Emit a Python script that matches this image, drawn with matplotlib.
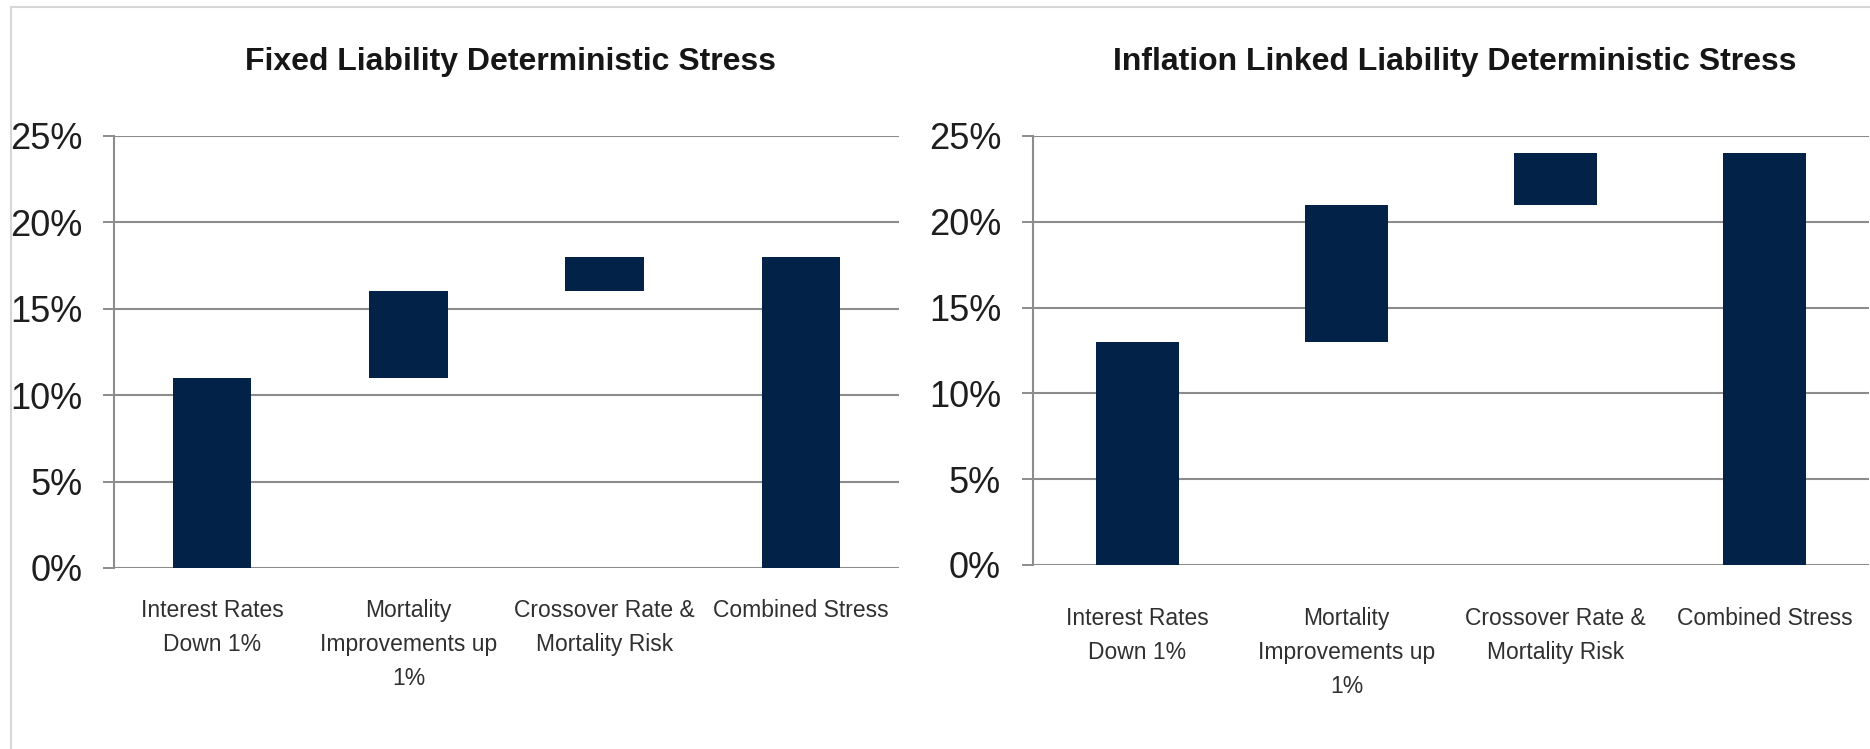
import matplotlib
matplotlib.use("Agg")
import matplotlib.pyplot as plt
from matplotlib.lines import Line2D
from matplotlib.ticker import PercentFormatter

# categories along the x axis
categories = ["Interest Rates\nDown 1%", "Mortality\nImprovements up\n1%",
              "Crossover Rate &\nMortality Risk", "Combined Stress"]

# waterfall bars: where each bar starts and ends (%)
fixed_start = [0, 11, 16, 0]
fixed_end = [11, 16, 18, 18]
infl_start = [0, 13, 21, 0]
infl_end = [13, 21, 24, 24]

titles = ["Fixed Liability Deterministic Stress",
          "Inflation Linked Liability Deterministic Stress"]
yticks = [0, 5, 10, 15, 20, 25]

navy = "#022347"
grid_gray = "#8c8c8c"

fig = plt.figure(figsize=(18.7, 7.49), dpi=100)

ax1 = fig.add_axes([0.0610, 0.2417, 0.4198, 0.5768])
ax2 = fig.add_axes([0.5524, 0.2457, 0.4471, 0.5728])

panels = [(ax1, fixed_start, fixed_end, titles[0], 22),
          (ax2, infl_start, infl_end, titles[1], 30)]

for ax, start, end, title, xpad in panels:
    x = list(range(len(categories)))
    heights = [e - s for s, e in zip(start, end)]
    ax.bar(x, heights, bottom=start, width=0.40, color=navy, zorder=3)
    ax.set_xlim(-0.5, len(categories) - 0.5)
    ax.set_ylim(0, 25)
    ax.set_yticks(yticks)
    ax.yaxis.set_major_formatter(PercentFormatter(decimals=0))
    ax.set_xticks(x)
    ax.set_xticklabels(categories, family="Liberation Sans",
                       fontsize=16.5, color="#303030", linespacing=1.62)
    for lbl in ax.get_yticklabels():
        lbl.set_family("Liberation Sans")
        lbl.set_fontsize(26)
        lbl.set_color("#1e1e1e")
    ax.tick_params(axis="x", length=0, pad=xpad)
    ax.tick_params(axis="y", length=8, width=1.4, color=grid_gray, pad=15)
    ax.grid(axis="y", color=grid_gray, linewidth=1.5, zorder=0)
    for side in ["top", "right", "bottom"]:
        ax.spines[side].set_visible(False)
    ax.spines["left"].set_color(grid_gray)
    ax.spines["left"].set_linewidth(1.5)
    # title centred over the axes
    bb = ax.get_position()
    fig.text(bb.x0 + bb.width / 2 + 0.002, 1 - 62 / 749, title, ha="center", va="center",
             family="Liberation Sans", fontweight="bold", fontsize=23, color="#161616")

# light outer frame (top and left edge visible in the crop)
fig.add_artist(Line2D([11 / 1870, 1], [1 - 7 / 749] * 2, color="#d6d6d6", linewidth=1.5))
fig.add_artist(Line2D([11 / 1870] * 2, [0, 1 - 7 / 749], color="#d6d6d6", linewidth=1.5))

fig.savefig("out.png", dpi=100)
